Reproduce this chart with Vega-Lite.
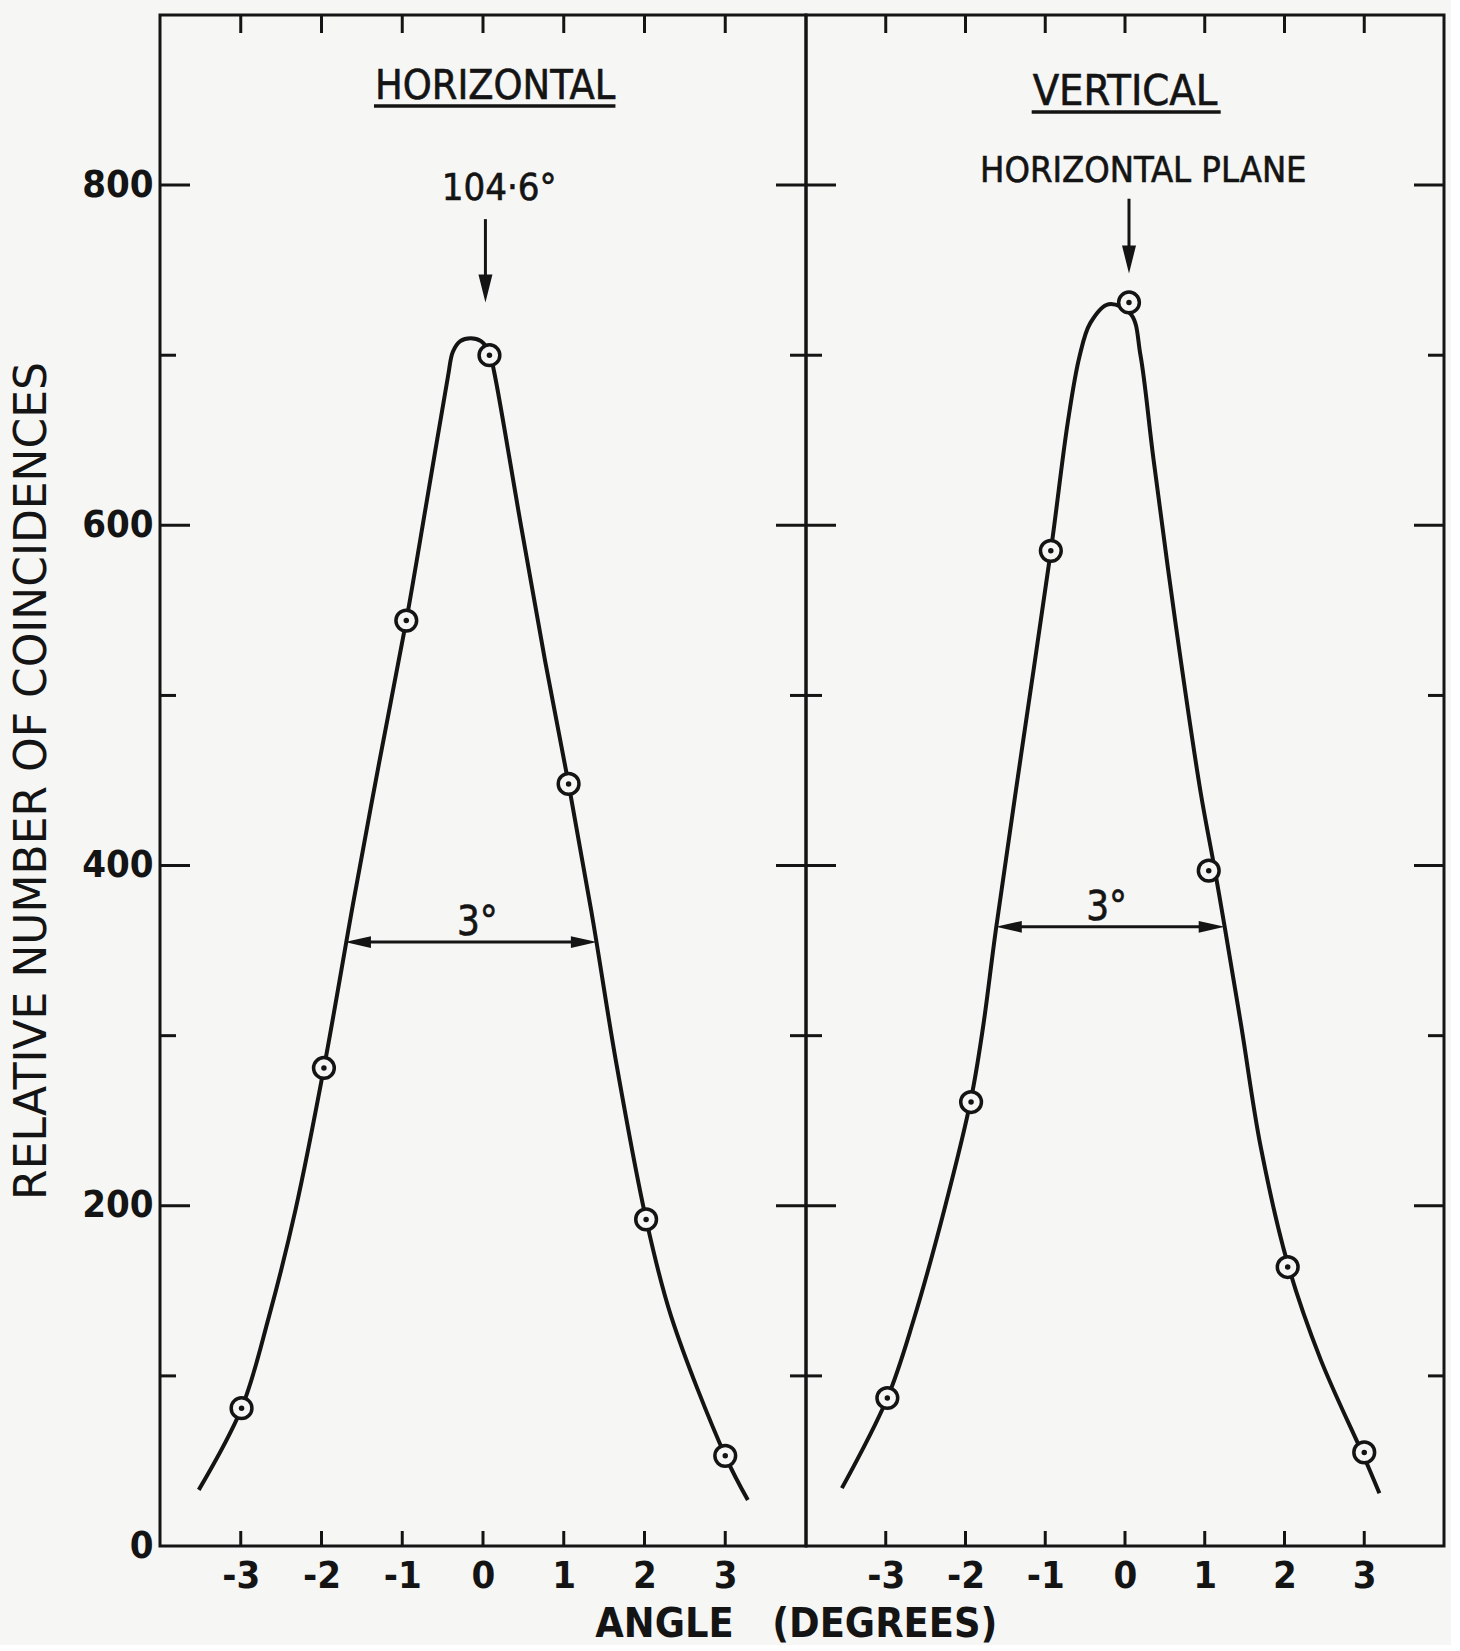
{
  "$schema": "https://vega.github.io/schema/vega-lite/v6.json",
  "background": "#f6f6f4",
  "padding": {"left": 9, "top": 13, "right": 5, "bottom": 0},
  "spacing": 0,
  "bounds": "flush",
  "title": {"text": "ANGLE\u00a0\u00a0\u00a0(DEGREES)", "orient": "bottom", "anchor": "middle", "fontSize": 41, "fontWeight": "bold", "font": "DejaVu Sans Condensed", "color": "#141414", "offset": 8, "dx": 69},
  "config": {
    "font": "DejaVu Sans Condensed",
    "view": {"stroke": "#141414", "strokeWidth": 3},
    "axis": {"ticks": false, "domain": false, "grid": false, "labelColor": "#141414", "titleColor": "#141414", "labelFont": "DejaVu Sans Condensed", "titleFont": "DejaVu Sans", "labelFontWeight": "bold", "titleFontWeight": "normal"},
    "text": {"font": "DejaVu Sans Condensed", "color": "#141414", "fontSize": 40, "stroke": "#141414", "strokeWidth": 0.6}
  },
  "datasets": {
    "hPoints": [
      {"angle": -2.99, "count": 81}, {"angle": -1.97, "count": 281}, {"angle": -0.95, "count": 544},
      {"angle": 0.08, "count": 700}, {"angle": 1.06, "count": 448}, {"angle": 2.02, "count": 192}, {"angle": 3.0, "count": 53}
    ],
    "hCurve": [
      {"angle": -3.52, "count": 33}, {"angle": -2.99, "count": 81}, {"angle": -2.65, "count": 135}, {"angle": -2.32, "count": 198},
      {"angle": -1.97, "count": 281}, {"angle": -1.6, "count": 380}, {"angle": -1.28, "count": 462}, {"angle": -0.95, "count": 544},
      {"angle": -0.69, "count": 616}, {"angle": -0.434, "count": 687.5}, {"angle": -0.373, "count": 702}, {"angle": -0.281, "count": 708.3},
      {"angle": -0.153, "count": 710}, {"angle": -0.025, "count": 708.3}, {"angle": 0.077, "count": 702}, {"angle": 0.139, "count": 690},
      {"angle": 0.47, "count": 600}, {"angle": 0.77, "count": 520}, {"angle": 1.06, "count": 448}, {"angle": 1.36, "count": 368},
      {"angle": 1.65, "count": 284}, {"angle": 2.02, "count": 192}, {"angle": 2.33, "count": 135}, {"angle": 3.0, "count": 53},
      {"angle": 3.28, "count": 27}
    ],
    "vPoints": [
      {"angle": -2.98, "count": 87}, {"angle": -1.93, "count": 261}, {"angle": -0.93, "count": 585},
      {"angle": 0.05, "count": 731}, {"angle": 1.05, "count": 397}, {"angle": 2.04, "count": 164}, {"angle": 3.0, "count": 55}
    ],
    "vCurve": [
      {"angle": -3.55, "count": 34}, {"angle": -2.98, "count": 87}, {"angle": -2.65, "count": 133}, {"angle": -2.27, "count": 197},
      {"angle": -1.93, "count": 263}, {"angle": -1.78, "count": 305}, {"angle": -1.62, "count": 362}, {"angle": -1.3, "count": 466},
      {"angle": -0.93, "count": 585}, {"angle": -0.716, "count": 661}, {"angle": -0.572, "count": 699}, {"angle": -0.434, "count": 719},
      {"angle": -0.205, "count": 730}, {"angle": 0.076, "count": 724}, {"angle": 0.194, "count": 700}, {"angle": 0.357, "count": 639},
      {"angle": 0.638, "count": 541}, {"angle": 0.945, "count": 444}, {"angle": 1.124, "count": 398}, {"angle": 1.25, "count": 364},
      {"angle": 1.46, "count": 305}, {"angle": 1.7, "count": 235}, {"angle": 2.04, "count": 166}, {"angle": 2.45, "count": 110},
      {"angle": 3.0, "count": 52}, {"angle": 3.19, "count": 31}
    ],
    "yMajor": [{"v": 200}, {"v": 400}, {"v": 600}, {"v": 800}],
    "yMinor": [{"v": 100}, {"v": 300}, {"v": 500}, {"v": 700}],
    "xTicks": [{"v": -3}, {"v": -2}, {"v": -1}, {"v": 0}, {"v": 1}, {"v": 2}, {"v": 3}]
  },
  "hconcat": [
    {
      "width": 646,
      "height": 1531,
      "resolve": {"axis": {"x": "independent", "y": "independent"}},
      "layer": [
        {
          "data": {"name": "hCurve"},
          "mark": {"type": "line", "interpolate": "catmull-rom", "color": "#141414", "strokeWidth": 4},
          "encoding": {
            "x": {"field": "angle", "type": "quantitative", "scale": {"domain": [-4, 4], "nice": false, "zero": false},
              "axis": {"values": [-3, -2, -1, 0, 1, 2, 3], "labelExpr": "'' + datum.value", "labelFontSize": 38, "labelPadding": 11, "title": null}},
            "y": {"field": "count", "type": "quantitative", "scale": {"domain": [0, 900], "nice": false},
              "axis": {"values": [0, 200, 400, 600, 800], "labelFontSize": 38, "labelPadding": 7,
                "title": "RELATIVE NUMBER OF COINCIDENCES", "titleFontSize": 44, "titlePadding": 27}}
          }
        },
        {
          "data": {"name": "hPoints"},
          "mark": {"type": "point", "shape": "circle", "filled": true, "fill": "#f6f6f4", "stroke": "#141414", "strokeWidth": 3.5, "size": 430, "opacity": 1},
          "encoding": {"x": {"field": "angle", "type": "quantitative", "axis": null}, "y": {"field": "count", "type": "quantitative", "axis": null}}
        },
        {
          "data": {"name": "hPoints"},
          "mark": {"type": "point", "shape": "circle", "filled": true, "color": "#141414", "size": 30, "opacity": 1},
          "encoding": {"x": {"field": "angle", "type": "quantitative", "axis": null}, "y": {"field": "count", "type": "quantitative", "axis": null}}
        },
        {
          "data": {"name": "yMajor"},
          "mark": {"type": "tick", "orient": "horizontal", "size": 60, "thickness": 3, "color": "#141414", "clip": true, "opacity": 1},
          "encoding": {"x": {"datum": -4, "axis": null}, "y": {"field": "v", "type": "quantitative", "axis": null}}
        },
        {
          "data": {"name": "yMinor"},
          "mark": {"type": "tick", "orient": "horizontal", "size": 32, "thickness": 3, "color": "#141414", "clip": true, "opacity": 1},
          "encoding": {"x": {"datum": -4, "axis": null}, "y": {"field": "v", "type": "quantitative", "axis": null}}
        },
        {
          "data": {"name": "yMajor"},
          "mark": {"type": "tick", "orient": "horizontal", "size": 60, "thickness": 3, "color": "#141414", "clip": true, "opacity": 1},
          "encoding": {"x": {"datum": 4, "axis": null}, "y": {"field": "v", "type": "quantitative", "axis": null}}
        },
        {
          "data": {"name": "yMinor"},
          "mark": {"type": "tick", "orient": "horizontal", "size": 32, "thickness": 3, "color": "#141414", "clip": true, "opacity": 1},
          "encoding": {"x": {"datum": 4, "axis": null}, "y": {"field": "v", "type": "quantitative", "axis": null}}
        },
        {
          "data": {"name": "xTicks"},
          "mark": {"type": "tick", "orient": "vertical", "size": 36, "thickness": 3, "color": "#141414", "clip": true, "opacity": 1},
          "encoding": {"x": {"field": "v", "type": "quantitative", "axis": null}, "y": {"datum": 900, "axis": null}}
        },
        {
          "data": {"name": "xTicks"},
          "mark": {"type": "tick", "orient": "vertical", "size": 30, "thickness": 3, "color": "#141414", "clip": true, "opacity": 1},
          "encoding": {"x": {"field": "v", "type": "quantitative", "axis": null}, "y": {"datum": 0, "axis": null}}
        },
        {
          "data": {"values": [{}]},
          "mark": {"type": "text", "text": "HORIZONTAL", "align": "center", "baseline": "alphabetic", "fontSize": 41},
          "encoding": {"x": {"datum": 0.15, "axis": null}, "y": {"datum": 850.5, "axis": null}}
        },
        {
          "data": {"values": [{}]},
          "mark": {"type": "rule", "color": "#141414", "strokeWidth": 3.5},
          "encoding": {"x": {"datum": -1.35, "axis": null}, "x2": {"datum": 1.64}, "y": {"datum": 846.5, "axis": null}}
        },
        {
          "data": {"values": [{}]},
          "mark": {"type": "text", "text": "104·6°", "align": "center", "baseline": "alphabetic", "fontSize": 38},
          "encoding": {"x": {"datum": 0.2, "axis": null}, "y": {"datum": 791, "axis": null}}
        },
        {
          "data": {"values": [{}]},
          "mark": {"type": "rule", "color": "#141414", "strokeWidth": 3},
          "encoding": {"x": {"datum": 0.03, "axis": null}, "y": {"datum": 780, "axis": null}, "y2": {"datum": 742}}
        },
        {
          "data": {"values": [{}]},
          "mark": {"type": "point", "shape": "M-0.5,-2L0.5,-2L0,0Z", "filled": true, "color": "#141414", "size": 784, "opacity": 1},
          "encoding": {"x": {"datum": 0.03, "axis": null}, "y": {"datum": 731, "axis": null}}
        },
        {
          "data": {"values": [{}]},
          "mark": {"type": "text", "text": "3°", "align": "center", "baseline": "alphabetic"},
          "encoding": {"x": {"datum": -0.07, "axis": null}, "y": {"datum": 359, "axis": null}}
        },
        {
          "data": {"values": [{}]},
          "mark": {"type": "rule", "color": "#141414", "strokeWidth": 3},
          "encoding": {"x": {"datum": -1.6, "axis": null}, "x2": {"datum": 1.3}, "y": {"datum": 355, "axis": null}}
        },
        {
          "data": {"values": [{}]},
          "mark": {"type": "point", "shape": "M0,0L2,-0.45L2,0.45Z", "filled": true, "color": "#141414", "size": 676, "opacity": 1},
          "encoding": {"x": {"datum": -1.71, "axis": null}, "y": {"datum": 355, "axis": null}}
        },
        {
          "data": {"values": [{}]},
          "mark": {"type": "point", "shape": "M0,0L-2,-0.45L-2,0.45Z", "filled": true, "color": "#141414", "size": 676, "opacity": 1},
          "encoding": {"x": {"datum": 1.41, "axis": null}, "y": {"datum": 355, "axis": null}}
        }
      ]
    },
    {
      "width": 638,
      "height": 1531,
      "resolve": {"axis": {"x": "independent", "y": "independent"}},
      "layer": [
        {
          "data": {"name": "vCurve"},
          "mark": {"type": "line", "interpolate": "catmull-rom", "color": "#141414", "strokeWidth": 4},
          "encoding": {
            "x": {"field": "angle", "type": "quantitative", "scale": {"domain": [-4, 4], "nice": false, "zero": false},
              "axis": {"values": [-3, -2, -1, 0, 1, 2, 3], "labelExpr": "'' + datum.value", "labelFontSize": 38, "labelPadding": 11, "title": null}},
            "y": {"field": "count", "type": "quantitative", "scale": {"domain": [0, 900], "nice": false}, "axis": null}
          }
        },
        {
          "data": {"name": "vPoints"},
          "mark": {"type": "point", "shape": "circle", "filled": true, "fill": "#f6f6f4", "stroke": "#141414", "strokeWidth": 3.5, "size": 430, "opacity": 1},
          "encoding": {"x": {"field": "angle", "type": "quantitative", "axis": null}, "y": {"field": "count", "type": "quantitative", "axis": null}}
        },
        {
          "data": {"name": "vPoints"},
          "mark": {"type": "point", "shape": "circle", "filled": true, "color": "#141414", "size": 30, "opacity": 1},
          "encoding": {"x": {"field": "angle", "type": "quantitative", "axis": null}, "y": {"field": "count", "type": "quantitative", "axis": null}}
        },
        {
          "data": {"name": "yMajor"},
          "mark": {"type": "tick", "orient": "horizontal", "size": 60, "thickness": 3, "color": "#141414", "clip": true, "opacity": 1},
          "encoding": {"x": {"datum": -4, "axis": null}, "y": {"field": "v", "type": "quantitative", "axis": null}}
        },
        {
          "data": {"name": "yMinor"},
          "mark": {"type": "tick", "orient": "horizontal", "size": 32, "thickness": 3, "color": "#141414", "clip": true, "opacity": 1},
          "encoding": {"x": {"datum": -4, "axis": null}, "y": {"field": "v", "type": "quantitative", "axis": null}}
        },
        {
          "data": {"name": "yMajor"},
          "mark": {"type": "tick", "orient": "horizontal", "size": 60, "thickness": 3, "color": "#141414", "clip": true, "opacity": 1},
          "encoding": {"x": {"datum": 4, "axis": null}, "y": {"field": "v", "type": "quantitative", "axis": null}}
        },
        {
          "data": {"name": "yMinor"},
          "mark": {"type": "tick", "orient": "horizontal", "size": 32, "thickness": 3, "color": "#141414", "clip": true, "opacity": 1},
          "encoding": {"x": {"datum": 4, "axis": null}, "y": {"field": "v", "type": "quantitative", "axis": null}}
        },
        {
          "data": {"name": "xTicks"},
          "mark": {"type": "tick", "orient": "vertical", "size": 36, "thickness": 3, "color": "#141414", "clip": true, "opacity": 1},
          "encoding": {"x": {"field": "v", "type": "quantitative", "axis": null}, "y": {"datum": 900, "axis": null}}
        },
        {
          "data": {"name": "xTicks"},
          "mark": {"type": "tick", "orient": "vertical", "size": 30, "thickness": 3, "color": "#141414", "clip": true, "opacity": 1},
          "encoding": {"x": {"field": "v", "type": "quantitative", "axis": null}, "y": {"datum": 0, "axis": null}}
        },
        {
          "data": {"values": [{}]},
          "mark": {"type": "text", "text": "VERTICAL", "align": "center", "baseline": "alphabetic", "fontSize": 43},
          "encoding": {"x": {"datum": 0.0, "axis": null}, "y": {"datum": 847, "axis": null}}
        },
        {
          "data": {"values": [{}]},
          "mark": {"type": "rule", "color": "#141414", "strokeWidth": 3.5},
          "encoding": {"x": {"datum": -1.17, "axis": null}, "x2": {"datum": 1.2}, "y": {"datum": 843, "axis": null}}
        },
        {
          "data": {"values": [{}]},
          "mark": {"type": "text", "text": "HORIZONTAL PLANE", "align": "center", "baseline": "alphabetic", "fontSize": 36},
          "encoding": {"x": {"datum": 0.23, "axis": null}, "y": {"datum": 802, "axis": null}}
        },
        {
          "data": {"values": [{}]},
          "mark": {"type": "rule", "color": "#141414", "strokeWidth": 3},
          "encoding": {"x": {"datum": 0.05, "axis": null}, "y": {"datum": 792, "axis": null}, "y2": {"datum": 758}}
        },
        {
          "data": {"values": [{}]},
          "mark": {"type": "point", "shape": "M-0.5,-2L0.5,-2L0,0Z", "filled": true, "color": "#141414", "size": 784, "opacity": 1},
          "encoding": {"x": {"datum": 0.05, "axis": null}, "y": {"datum": 748, "axis": null}}
        },
        {
          "data": {"values": [{}]},
          "mark": {"type": "text", "text": "3°", "align": "center", "baseline": "alphabetic"},
          "encoding": {"x": {"datum": -0.23, "axis": null}, "y": {"datum": 368, "axis": null}}
        },
        {
          "data": {"values": [{}]},
          "mark": {"type": "rule", "color": "#141414", "strokeWidth": 3},
          "encoding": {"x": {"datum": -1.5, "axis": null}, "x2": {"datum": 1.13}, "y": {"datum": 364, "axis": null}}
        },
        {
          "data": {"values": [{}]},
          "mark": {"type": "point", "shape": "M0,0L2,-0.45L2,0.45Z", "filled": true, "color": "#141414", "size": 676, "opacity": 1},
          "encoding": {"x": {"datum": -1.62, "axis": null}, "y": {"datum": 364, "axis": null}}
        },
        {
          "data": {"values": [{}]},
          "mark": {"type": "point", "shape": "M0,0L-2,-0.45L-2,0.45Z", "filled": true, "color": "#141414", "size": 676, "opacity": 1},
          "encoding": {"x": {"datum": 1.25, "axis": null}, "y": {"datum": 364, "axis": null}}
        }
      ]
    }
  ]
}
